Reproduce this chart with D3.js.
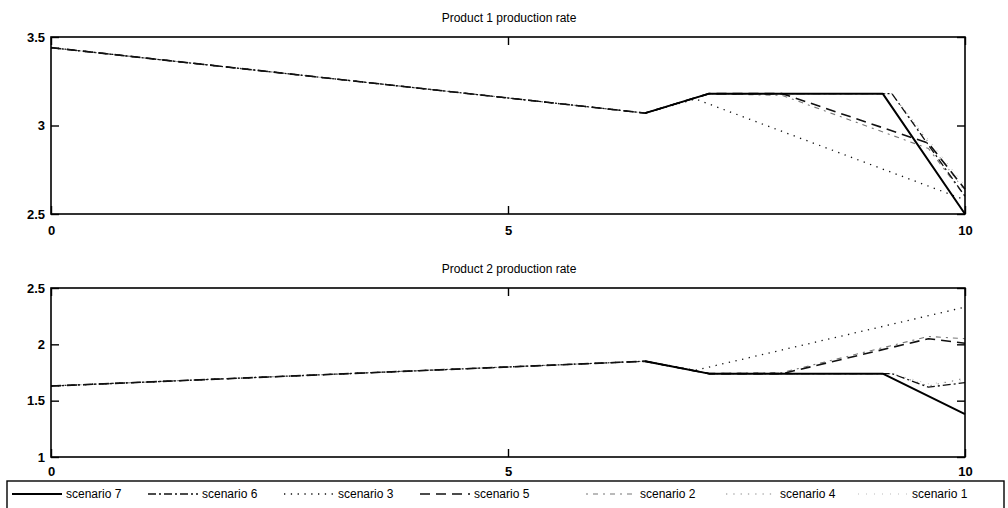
<!DOCTYPE html>
<html><head><meta charset="utf-8">
<script src="https://cdn.jsdelivr.net/npm/d3@7/dist/d3.min.js"></script>
<style>
body{margin:0;background:#fff;}
svg{display:block;font-family:"Liberation Sans",Arial,Helvetica,sans-serif;}
</style></head><body>
<svg id="c" width="1008" height="508"></svg>
<script>
// ---- data ----
const times = [0, 6.5, 7.05, 7.2, 8.0, 9.1, 9.2, 9.6, 10];
const scenarioNames = ["scenario 7","scenario 6","scenario 3","scenario 5","scenario 2","scenario 4","scenario 1"];
// Product 1 (null = no breakpoint at that time)
const p1_s7 = [null, 3.07, null, 3.18, null, 3.18, null, null, 2.50];
const p1_s6 = [3.44, 3.07, null, 3.18, null, null, 3.18, null, 2.60];
const p1_s3 = [3.44, 3.07, 3.15, null, null, null, null, null, 2.58];
const p1_s5 = [3.44, 3.07, null, 3.18, 3.18, null, null, 2.90, 2.64];
const p1_s2 = [3.44, 3.07, null, 3.18, 3.17, null, null, 2.87, 2.60];
const p1_s4 = [3.44, 3.07, null, 3.18, null, null, 3.18, null, 2.63];
const p1_s1 = [3.44, 3.07, null, 3.18, null, null, 3.18, null, 2.66];
// Product 2
const p2_s7 = [null, 1.85, null, 1.74, null, 1.74, null, null, 1.38];
const p2_s6 = [1.63, 1.85, null, 1.74, null, null, 1.74, 1.62, 1.66];
const p2_s3 = [1.63, 1.85, 1.77, null, null, null, null, null, 2.33];
const p2_s5 = [1.63, 1.85, null, 1.74, 1.74, null, null, 2.05, 2.01];
const p2_s2 = [1.63, 1.85, null, 1.74, 1.75, null, null, 2.07, 2.05];
const p2_s4 = [1.63, 1.85, null, 1.74, null, null, 1.74, 1.63, 1.70];
const p2_s1 = [1.63, 1.85, null, 1.74, null, null, 1.74, 1.65, 1.68];
const xTicks = [0, 5, 10];
const y1Ticks = [2.5, 3, 3.5];
const y2Ticks = [1, 1.5, 2, 2.5];
const titles = ["Product 1 production rate", "Product 2 production rate"];

// ---- styles ----
const styles = {
  "scenario 7": {stroke:"#000", width:2, dash:null},
  "scenario 6": {stroke:"#111", width:1.3, dash:"8,3,2,3"},
  "scenario 3": {stroke:"#111", width:1.3, dash:"1.3,5.5"},
  "scenario 5": {stroke:"#111", width:1.6, dash:"10,6"},
  "scenario 2": {stroke:"#777", width:1.1, dash:"2,5,5,5"},
  "scenario 4": {stroke:"#888", width:1.1, dash:"1.3,6"},
  "scenario 1": {stroke:"#bbb", width:1, dash:"1,7"}
};

const svg = d3.select("#c");
const W0 = 51, W1 = 965;
const x = d3.scaleLinear().domain([0,10]).range([W0, W1]);

function panel(top, bottom, yDomain, yTicks, title, series, xLabelY){
  const y = d3.scaleLinear().domain(yDomain).range([bottom, top]);
  const g = svg.append("g");
  g.append("text").attr("x", (W0+W1)/2 + 1).attr("y", top-15).attr("text-anchor","middle")
    .attr("font-size", 12).text(title);
  const line = d3.line().x(d=>x(d[0])).y(d=>y(d[1]));
  const order = ["scenario 1","scenario 4","scenario 2","scenario 3","scenario 5","scenario 6","scenario 7"];
  order.forEach(n=>{
    const vals = series[n];
    const pts = times.map((t,i)=>[t, vals[i]]).filter(d=>d[1]!==null);
    const s = styles[n];
    g.append("path").attr("d", line(pts)).attr("fill","none")
      .attr("stroke", s.stroke).attr("stroke-width", s.width)
      .attr("stroke-dasharray", s.dash).attr("stroke-linejoin","round");
  });
  const ax = g.append("g").attr("transform",`translate(0,${bottom})`)
    .call(d3.axisBottom(x).tickValues(xTicks).tickSize(-8).tickPadding(4).tickFormat(d3.format("d")));
  ax.selectAll("text").attr("y", xLabelY - bottom).attr("dy","0.35em");
  g.append("g").attr("transform",`translate(0,${top})`)
    .call(d3.axisTop(x).tickValues(xTicks).tickSize(-8).tickFormat(""));
  const ay = g.append("g").attr("transform",`translate(${W0},0)`)
    .call(d3.axisLeft(y).tickValues(yTicks).tickSize(-8).tickFormat(d3.format("")));
  ay.selectAll("text").attr("x", -6);
  g.append("g").attr("transform",`translate(${W1},0)`)
    .call(d3.axisRight(y).tickValues(yTicks).tickSize(-8).tickFormat(""));
  g.selectAll(".domain").remove();
  g.selectAll(".tick line").attr("stroke","#000").attr("stroke-width",1.4);
  g.selectAll(".tick text").attr("font-size",13).attr("font-weight","bold").attr("fill","#000")
    .attr("font-family","Liberation Sans, Arial, sans-serif");
  g.append("rect").attr("x",W0).attr("y",top).attr("width",W1-W0).attr("height",bottom-top)
    .attr("fill","none").attr("stroke","#000").attr("stroke-width",1.6);
}

panel(37, 214, [2.5,3.5], y1Ticks, titles[0], {
  "scenario 7":p1_s7,"scenario 6":p1_s6,"scenario 3":p1_s3,"scenario 5":p1_s5,
  "scenario 2":p1_s2,"scenario 4":p1_s4,"scenario 1":p1_s1}, 230);
panel(288, 457, [1,2.5], y2Ticks, titles[1], {
  "scenario 7":p2_s7,"scenario 6":p2_s6,"scenario 3":p2_s3,"scenario 5":p2_s5,
  "scenario 2":p2_s2,"scenario 4":p2_s4,"scenario 1":p2_s1}, 471);

// legend
const lg = svg.append("g");
lg.append("rect").attr("x",7).attr("y",481).attr("width",997).attr("height",30)
  .attr("fill","#fff").attr("stroke","#000").attr("stroke-width",1.4);
const legendX = [12, 148, 284, 420, 586, 726, 858];
const lineW = 50;
scenarioNames.forEach((n,i)=>{
  const s = styles[n];
  const x0 = legendX[i];
  lg.append("line").attr("x1",x0).attr("x2",x0+lineW).attr("y1",494).attr("y2",494)
    .attr("stroke",s.stroke).attr("stroke-width",s.width).attr("stroke-dasharray",s.dash);
  lg.append("text").attr("x",x0+lineW+4).attr("y",494).attr("dy","0.35em")
    .attr("font-size",12).attr("fill","#000").text(n);
});
</script></body></html>
